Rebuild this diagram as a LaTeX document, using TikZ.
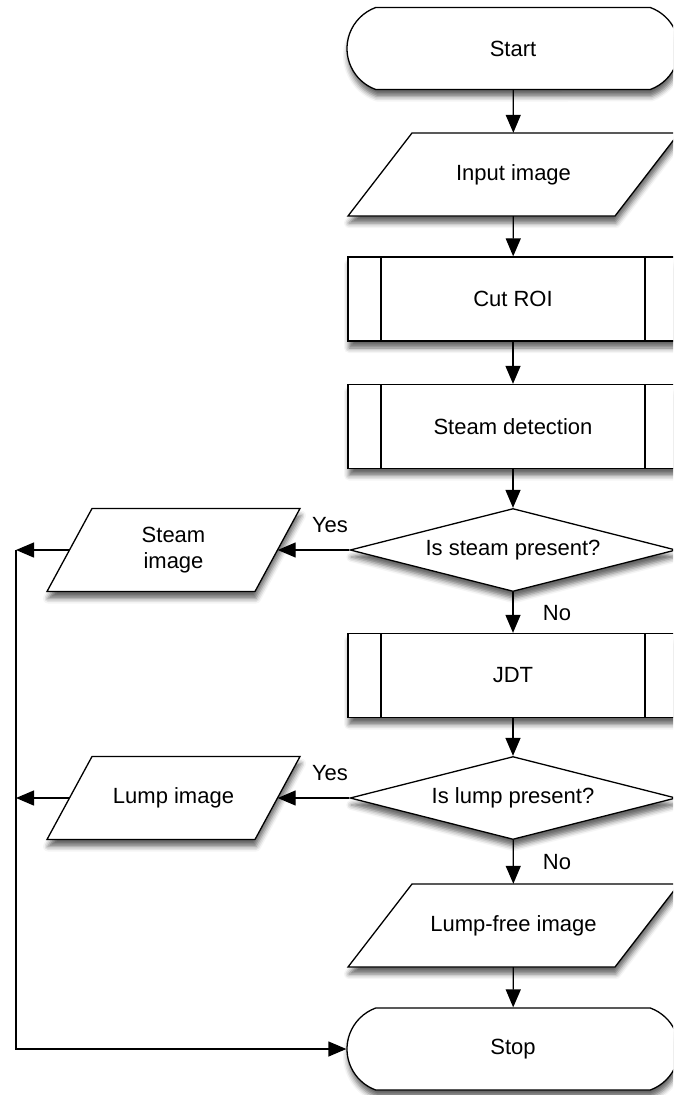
\documentclass[tikz,border=0pt]{standalone}
\usepackage{fontspec}
\setmainfont{Liberation Sans}
\usetikzlibrary{shapes.geometric,shapes.misc,arrows.meta,shadows.blur}

\begin{document}
\begin{tikzpicture}[x=1pt,y=-1pt]
\tikzstyle{every node}+=[font=\fontsize{22}{26}\selectfont]
\tikzstyle{shade}=[blur shadow={shadow xshift=1pt,shadow yshift=-7pt,shadow blur radius=5pt,shadow opacity=60}]
\tikzstyle{box}=[draw,line width=1.3pt,fill=white,inner sep=0pt,shade]
\tikzstyle{term}=[box,rounded rectangle,rounded rectangle arc length=140,minimum width=332pt,minimum height=82pt]
\tikzstyle{io}=[inner sep=0pt,minimum height=83pt,align=center]
\tikzstyle{sub}=[box,rectangle,minimum width=330pt,minimum height=84pt,
  path picture={\draw[line width=1.3pt] ([xshift=33pt]path picture bounding box.north west) -- ([xshift=33pt]path picture bounding box.south west);
  \draw[line width=1.3pt] ([xshift=-33pt]path picture bounding box.north east) -- ([xshift=-33pt]path picture bounding box.south east);}]
\tikzstyle{ask}=[box,diamond,shape aspect=3.93,minimum width=326pt,minimum height=83pt]
\tikzstyle{arw}=[line width=1.3pt,draw=black,-{Triangle[length=18pt,width=15pt,fill=black]}]
\path[use as bounding box,clip] (0,0) rectangle (673,1095);
\draw[box] (348,216) -- (412,133) -- (679,133) -- (615,216) -- cycle;
\draw[box] (47,591.5) -- (92,508.5) -- (300,508.5) -- (255,591.5) -- cycle;
\draw[box] (47,839.5) -- (92,756.5) -- (300,756.5) -- (255,839.5) -- cycle;
\draw[box] (348,967) -- (412,884) -- (679,884) -- (615,967) -- cycle;
\node[term] (start) at (513,48.5) {Start};
\node[io,minimum width=267pt] (input) at (513.5,174.5) {Input image};
\node[sub] (roi) at (513,299) {Cut ROI};
\node[sub] (steam) at (513,426.5) {Steam detection};
\node[ask] (isteam) at (513,550) {Is steam present?};
\node[io,minimum width=208pt] (simg) at (173.5,550) {Steam\\image};
\node[sub] (jdt) at (513,675.5) {JDT};
\node[ask] (ilump) at (513,798) {Is lump present?};
\node[io,minimum width=208pt] (limg) at (173.5,798) {Lump image};
\node[io,minimum width=267pt] (free) at (513.5,925.5) {Lump-free image};
\node[term] (stop) at (513,1049) {Stop};
\coordinate (back1) at (16,550);
\coordinate (back2) at (16,798);
\coordinate (back3) at (16,1049);
\draw[arw] (start) -- (input);
\draw[arw] (input) -- (roi);
\draw[arw] (roi) -- (steam);
\draw[arw] (steam) -- (isteam);
\draw[arw] (isteam) -- (simg);
\draw[arw] (isteam) -- (jdt);
\draw[arw] (jdt) -- (ilump);
\draw[arw] (ilump) -- (limg);
\draw[arw] (ilump) -- (free);
\draw[arw] (free) -- (stop);
\draw[arw] (simg) -- (back1);
\draw[arw] (limg) -- (back2);
\draw[arw] (back1) -- (back3) -- (stop);
\node (yes1) at (330,525) {Yes};
\node (no1) at (557,613) {No};
\node (yes2) at (330,773) {Yes};
\node (no2) at (557,862) {No};
\end{tikzpicture}
\end{document}
